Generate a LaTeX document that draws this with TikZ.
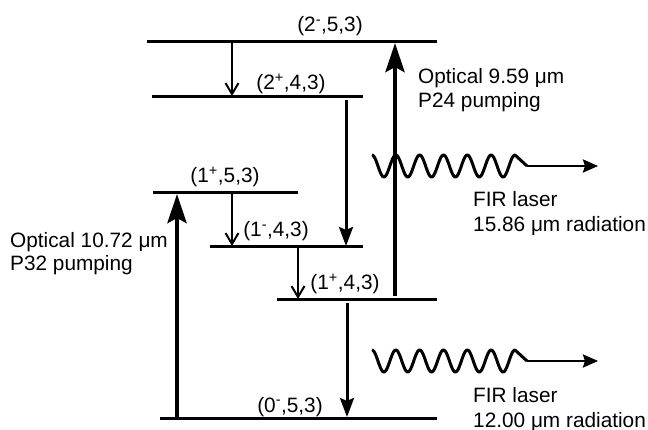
\documentclass[tikz,border=0pt]{standalone}
\usepackage{fontspec}
\setmainfont{Liberation Sans}
\usetikzlibrary{arrows.meta}
\begin{document}
\begin{tikzpicture}[x=1pt,y=-1pt,
  level/.style={line width=3pt},
  thinarrow/.style={line width=2.2pt,-{Straight Barb[length=11pt,width=13pt,line width=2pt]}},
  medarrow/.style={line width=3pt,-{Stealth[length=19pt,width=14pt,inset=3pt]}},
  pumparrow/.style={line width=4.4pt,-{Stealth[length=29pt,width=19pt,inset=5pt]}},
  wave/.style={line width=3pt,line join=round},
  lbl/.style={inner sep=0pt,anchor=base,font=\fontsize{20.8}{24}\selectfont},
  txt/.style={inner sep=0pt,anchor=base west,font=\fontsize{20.8}{24}\selectfont}]
\useasboundingbox (0,0) rectangle (648,430);
% levels
\coordinate (L1a) at (147,42);  \coordinate (L1b) at (437,42);
\coordinate (L2a) at (152,97);  \coordinate (L2b) at (363,97);
\coordinate (L3a) at (153,193); \coordinate (L3b) at (298,193);
\coordinate (L4a) at (210,247); \coordinate (L4b) at (363,247);
\coordinate (L5a) at (277,300); \coordinate (L5b) at (437,300);
\coordinate (L6a) at (160,418); \coordinate (L6b) at (437,418);
\draw[level] (L1a) -- (L1b);
\draw[level] (L2a) -- (L2b);
\draw[level] (L3a) -- (L3b);
\draw[level] (L4a) -- (L4b);
\draw[level] (L5a) -- (L5b);
\draw[level] (L6a) -- (L6b);
% level labels
\node[lbl] (t1) at (330,32) {(2\textsuperscript{-},5,3)};
\node[lbl] (t2) at (291,90) {(2\textsuperscript{+},4,3)};
\node[lbl] (t3) at (225,183) {(1\textsuperscript{+},5,3)};
\node[lbl] (t4) at (276,237) {(1\textsuperscript{-},4,3)};
\node[lbl] (t5) at (345,290) {(1\textsuperscript{+},4,3)};
\node[lbl] (t6) at (290,412) {(0\textsuperscript{-},5,3)};
% arrow end points
\coordinate (a1s) at (232,43);  \coordinate (a1e) at (232,96);
\coordinate (a3s) at (232,194); \coordinate (a3e) at (232,246);
\coordinate (a4s) at (298,248); \coordinate (a4e) at (298,299);
\coordinate (a2s) at (346,100); \coordinate (a2e) at (346,246);
\coordinate (a5s) at (347,303); \coordinate (a5e) at (347,417);
\coordinate (b1s) at (177,418); \coordinate (b1e) at (177,194);
\coordinate (b2s) at (395,296); \coordinate (b2e) at (395,43);
\draw[thinarrow] (a1s) -- (a1e);
\draw[thinarrow] (a3s) -- (a3e);
\draw[thinarrow] (a4s) -- (a4e);
\draw[medarrow] (a2s) -- (a2e);
\draw[medarrow] (a5s) -- (a5e);
\draw[pumparrow] (b1s) -- (b1e);
\draw[pumparrow] (b2s) -- (b2e);
% waves
\coordinate (w1a) at (515,155); \coordinate (w1b) at (527,166); \coordinate (w1c) at (598,166);
\coordinate (w2a) at (515,350); \coordinate (w2b) at (527,361); \coordinate (w2c) at (598,361);
\draw[wave] plot[domain=372:515,samples=160,smooth] (\x,{166-11*cos(15.107*(\x-372))}) -- (w1b);
\draw[line width=2.4pt,-{Stealth[length=15pt,width=13pt,inset=2pt]}] (w1b) -- (w1c);
\draw[wave] plot[domain=372:515,samples=160,smooth] (\x,{361-11*cos(15.107*(\x-372))}) -- (w2b);
\draw[line width=2.4pt,-{Stealth[length=15pt,width=13pt,inset=2pt]}] (w2b) -- (w2c);
% texts
\node[txt] (o1a) at (418,84) {Optical 9.59 μm};
\node[txt] (o1b) at (418,108) {P24 pumping};
\node[txt] (o2a) at (10,248) {Optical 10.72 μm};
\node[txt] (o2b) at (10,271) {P32 pumping};
\node[txt] (f1a) at (473,207) {FIR laser};
\node[txt] (f1b) at (473,232) {15.86 μm radiation};
\node[txt] (f2a) at (473,402) {FIR laser};
\node[txt] (f2b) at (473,427) {12.00 μm radiation};
\end{tikzpicture}
\end{document}
